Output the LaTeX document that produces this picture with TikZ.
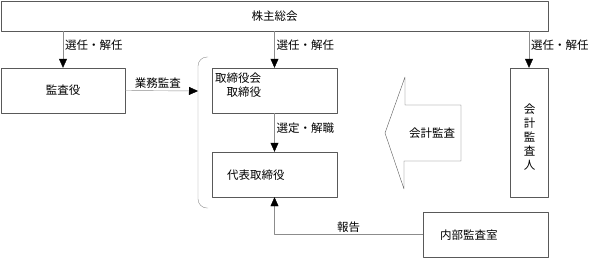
\documentclass[tikz,border=0pt]{standalone}
\usepackage{fontspec}
\newfontfamily\jpfont{Noto Sans CJK JP}
\usetikzlibrary{arrows.meta}
\tikzset{
  box/.style={draw=black!65,rectangle,inner sep=0pt},
  conn/.style={draw=black!45,-{Triangle[width=8pt,length=9pt,color=black]}},
  lbl/.style={inner sep=2pt,text=black}
}
\begin{document}
\begin{tikzpicture}[x=1pt,y=-1pt,line join=round,font=\jpfont\fontsize{11.5}{14}\selectfont]
	\useasboundingbox (0,0) rectangle (593,258);
	\node[box,minimum width=547pt,minimum height=30pt] (soukai) at (274.5,16) {株主総会};
	\node[box,minimum width=124pt,minimum height=45pt] (kansayaku) at (63,90.5) {監査役};
	\node[box,minimum width=125pt,minimum height=45pt] (torikai) at (274.5,90.5) {};
	\node[lbl,anchor=north west,align=left,inner sep=0pt] (torikaitxt) at (215,73) {取締役会\\\hspace{1em}取締役};
	\node[box,minimum width=125pt,minimum height=45pt] (daihyo) at (274.5,174.5) {};
	\node[lbl,anchor=west] (daihyotxt) at (225,175) {代表取締役};
	\node[box,minimum width=38pt,minimum height=129pt] (kaikei) at (529,132.5) {};
	\node[lbl,align=center] (kaikeitxt) at (529.5,137) {会\\計\\監\\査\\人};
	\node[box,minimum width=125pt,minimum height=45pt] (naibu) at (485.5,234.5) {};
	\node[lbl,anchor=west] (naibutxt) at (438,235) {内部監査室};
	% 取締役会・代表取締役をくくる括弧
	\coordinate (brk) at (198,91);
	\draw[black!45,rounded corners=9pt] (208,57) -- (198,57) -- (198,208) -- (208,208);
	% 会計監査の矢印
	\draw[black!65] (461,105) -- (405,105) -- (405,77) -- (385,133) -- (404,189) -- (404,161) -- (461,161) -- cycle;
	\node[lbl] (kaikeikansa) at (432,133) {会計監査};
	% 矢印
	\draw[conn] (kansayaku.north |- soukai.south) -- node[lbl,right,pos=.38] {選任・解任} (kansayaku.north);
	\draw[conn] (torikai.north |- soukai.south) -- node[lbl,right,pos=.38] {選任・解任} (torikai.north);
	\draw[conn] (kaikei.north |- soukai.south) -- node[lbl,right,pos=.38] {選任・解任} (kaikei.north);
	\draw[conn] (kansayaku.east) -- node[lbl,above,pos=.45] {業務監査} (brk);
	\draw[conn] (torikai.south) -- node[lbl,right,pos=.38] {選定・解職} (daihyo.north);
	\draw[conn] (naibu.west) -- node[lbl,above,pos=.5] {報告} (daihyo.south |- naibu.west) -- (daihyo.south);
\end{tikzpicture}
\end{document}
